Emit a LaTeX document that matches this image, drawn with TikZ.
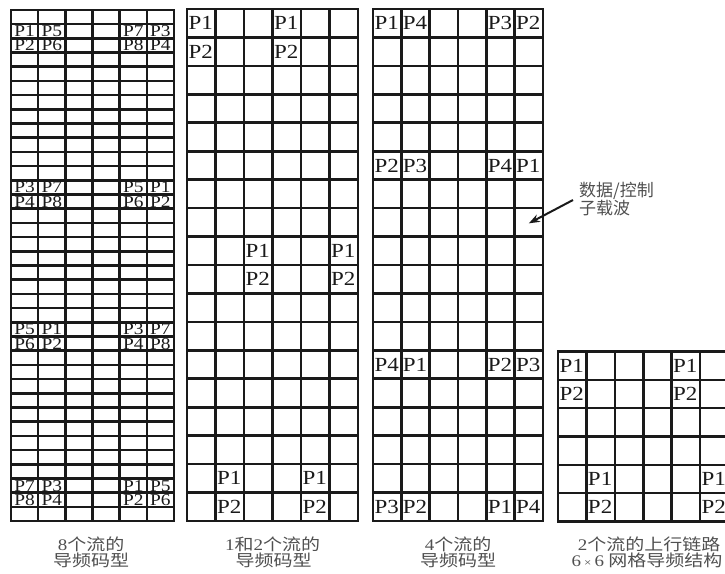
\documentclass[tikz,border=0pt]{standalone}
\usepackage{fontspec}
\usepackage{graphicx}
\setmainfont{Liberation Serif}
\newfontfamily\cjk{Noto Sans CJK SC}
\usetikzlibrary{arrows.meta}
\definecolor{gridc}{HTML}{1A1A1A}
\definecolor{capc}{HTML}{505050}
\newcommand\wideP[1]{\scalebox{1.15}[1]{#1}}
\newcommand\flatP[1]{\scalebox{0.97}[0.83]{#1}}
\newcommand\capS[1]{\scalebox{1}[0.85]{#1}}
\tikzset{
  gridline/.style={line width=2.6pt, draw=gridc, line cap=rect},
  plab/.style={inner sep=0pt, anchor=base, font=\fontsize{20}{20}\selectfont, text=gridc},
  caplab/.style={inner sep=0pt, anchor=base, font=\cjk\fontsize{19}{19}\selectfont, text=capc},
  annot/.style={inner sep=0pt, anchor=west, align=left, font=\cjk\fontsize{17}{16}\selectfont, text=capc},
  pointer/.style={line width=2pt, draw=gridc, -{Stealth[length=11pt,width=8pt]}}
}
\begin{document}
\begin{tikzpicture}[x=1pt,y=-1pt]
\useasboundingbox (0,0) rectangle (725,573);
\fill[white] (0,0) rectangle (725,573);
\begin{scope}
\clip (0,0) rectangle (725,573);
% ---------- grid 1: 8 streams (6 x 36) ----------
\foreach \i in {0,...,6} \draw[gridline] ({11+\i*(163/6)},10) -- ({11+\i*(163/6)},521);
\foreach \j in {0,...,36} \draw[gridline] (11,{10+\j*(511/36)}) -- (174,{10+\j*(511/36)});
\foreach \r/\pa/\pb/\pc/\pd in {1/P1/P5/P7/P3, 2/P2/P6/P8/P4, 12/P3/P7/P5/P1, 13/P4/P8/P6/P2, 22/P5/P1/P3/P7, 23/P6/P2/P4/P8, 33/P7/P3/P1/P5, 34/P8/P4/P2/P6}{
  \foreach \col/\txt in {0/\pa,1/\pb,4/\pc,5/\pd}
    \node[plab] (ga-\r-\col) at ({11+(\col+0.5)*(163/6)},{10+(\r+0.5)*(511/36)+5.5}) {\flatP{\txt}};
}
% ---------- grid 2: 1 and 2 streams (6 x 18) ----------
\foreach \i in {0,...,6} \draw[gridline] ({187+\i*28.5},9) -- ({187+\i*28.5},521);
\foreach \j in {0,...,18} \draw[gridline] (187,{9+\j*(512/18)}) -- (358,{9+\j*(512/18)});
\foreach \r/\col/\txt in {0/0/P1, 0/3/P1, 1/0/P2, 1/3/P2, 8/2/P1, 8/5/P1, 9/2/P2, 9/5/P2, 16/1/P1, 16/4/P1, 17/1/P2, 17/4/P2}
  \node[plab] (gb-\r-\col) at ({187+(\col+0.5)*28.5-0.5},{9+(\r+0.5)*(512/18)+6.6}) {\wideP{\txt}};
% ---------- grid 3: 4 streams (6 x 18) ----------
\foreach \i in {0,...,6} \draw[gridline] ({373+\i*(170/6)},9) -- ({373+\i*(170/6)},521);
\foreach \j in {0,...,18} \draw[gridline] (373,{9+\j*(512/18)}) -- (543,{9+\j*(512/18)});
\foreach \r/\pa/\pb/\pc/\pd in {0/P1/P4/P3/P2, 5/P2/P3/P4/P1, 12/P4/P1/P2/P3, 17/P3/P2/P1/P4}{
  \foreach \col/\txt in {0/\pa,1/\pb,4/\pc,5/\pd}
    \node[plab] (gc-\r-\col) at ({373+(\col+0.5)*(170/6)-0.5},{9+(\r+0.5)*(512/18)+6.6}) {\wideP{\txt}};
}
\coordinate (tgt) at ({373+5.5*(170/6)},{9+7.5*(512/18)+1});
% ---------- grid 4: uplink 6 x 6 ----------
\foreach \i in {0,...,6} \draw[gridline] ({558+\i*28.4},351.5) -- ({558+\i*28.4},521.5);
\foreach \j in {0,...,6} \draw[gridline] (558,{351.5+\j*(170/6)}) -- (728.4,{351.5+\j*(170/6)});
\foreach \r/\col/\txt in {0/0/P1, 0/4/P1, 1/0/P2, 1/4/P2, 4/1/P1, 4/5/P1, 5/1/P2, 5/5/P2}
  \node[plab] (gd-\r-\col) at ({558+(\col+0.5)*28.4-0.5},{351.5+(\r+0.5)*(170/6)+6.6}) {\wideP{\txt}};
\end{scope}
% ---------- annotation ----------
\node[annot] (lbl) at (579,199) {数据/控制\\子载波};
\draw[pointer] ([xshift=-6pt,yshift=-1pt]lbl.west) -- (tgt);
% ---------- captions ----------
\node[caplab] (cap1a) at (91,550.3) {\capS{{\rmfamily 8}个流的}};
\node[caplab] (cap1b) at (91,566.7) {\capS{导频码型}};
\node[caplab] (cap2a) at (272.5,550.3) {\capS{{\rmfamily 1}和{\rmfamily 2}个流的}};
\node[caplab] (cap2b) at (273.5,566.7) {\capS{导频码型}};
\node[caplab] (cap3a) at (458,550.3) {\capS{{\rmfamily 4}个流的}};
\node[caplab] (cap3b) at (458,566.7) {\capS{导频码型}};
\node[caplab] (cap4a) at (649,550.3) {\capS{{\rmfamily 2}个流的上行链路}};
\node[caplab] (cap4b) at (647,566.7) {\capS{{\rmfamily 6\,{\fontsize{13}{13}\selectfont ×}\,6} 网格导频结构}};
\end{tikzpicture}
\end{document}
